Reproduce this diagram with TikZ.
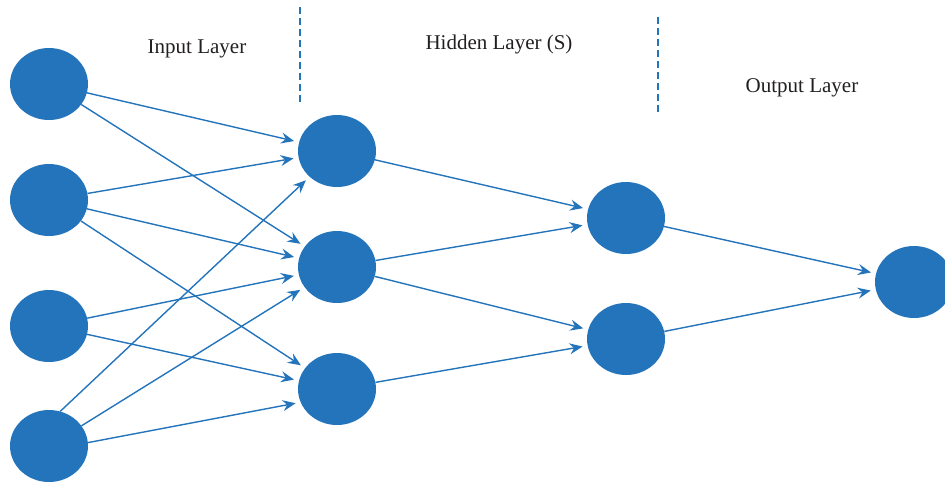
\documentclass[tikz,border=0pt]{standalone}
\usepackage{fontspec}
\setmainfont{Liberation Serif}
\usetikzlibrary{arrows.meta,shapes.geometric}
\definecolor{nnblue}{RGB}{36,116,187}
\definecolor{txtgray}{RGB}{35,31,32}
\begin{document}
\begin{tikzpicture}[
  neuron/.style={ellipse, fill=nnblue, minimum width=78pt, minimum height=72pt, inner sep=0pt},
  conn/.style={draw=nnblue, line width=1.4pt, -{Stealth[length=13pt,width=11pt,inset=4.5pt]}, shorten >=5pt},
  sepline/.style={draw=nnblue, line width=1.2pt, dash pattern=on 7pt off 4pt},
  lbl/.style={text=txtgray, font=\fontsize{21}{25}\selectfont, inner sep=0pt}]
\useasboundingbox (0pt,0pt) rectangle (945pt,-483pt);
% labels
\node[lbl] (tin) at (197pt,-49pt) {Input Layer};
\node[lbl] (thid) at (499pt,-44pt) {Hidden Layer (S)};
\node[lbl] (tout) at (802pt,-88pt) {Output Layer};
% separators
\coordinate (s1a) at (300pt,-7pt);
\coordinate (s1b) at (300pt,-103pt);
\coordinate (s2a) at (658pt,-17pt);
\coordinate (s2b) at (658pt,-113pt);
\draw[sepline] (s1a) -- (s1b);
\draw[sepline] (s2a) -- (s2b);
% neurons
\node[neuron] (i1) at (49pt,-84pt) {};
\node[neuron] (i2) at (49pt,-200pt) {};
\node[neuron] (i3) at (49pt,-326pt) {};
\node[neuron] (i4) at (49pt,-446pt) {};
\node[neuron] (h1) at (337pt,-151pt) {};
\node[neuron] (h2) at (337pt,-267pt) {};
\node[neuron] (h3) at (337pt,-389pt) {};
\node[neuron] (g1) at (626pt,-218pt) {};
\node[neuron] (g2) at (626pt,-339pt) {};
\node[neuron] (o) at (914pt,-282pt) {};
% connections input -> hidden 1
\draw[conn] (i1) -- (h1);
\draw[conn] (i1) -- (h2);
\draw[conn] (i2) -- (h1);
\draw[conn] (i2) -- (h2);
\draw[conn] (i2) -- (h3);
\draw[conn] (i3) -- (h2);
\draw[conn] (i3) -- (h3);
\draw[conn] (i4.72) -- (h1);
\draw[conn] (i4) -- (h2);
\draw[conn] (i4.5) -- (h3.200);
% hidden 1 -> hidden 2
\draw[conn] (h1) -- (g1);
\draw[conn] (h2) -- (g1);
\draw[conn] (h2) -- (g2);
\draw[conn] (h3) -- (g2);
% hidden 2 -> output
\draw[conn] (g1) -- (o);
\draw[conn] (g2) -- (o);
\end{tikzpicture}
\end{document}
